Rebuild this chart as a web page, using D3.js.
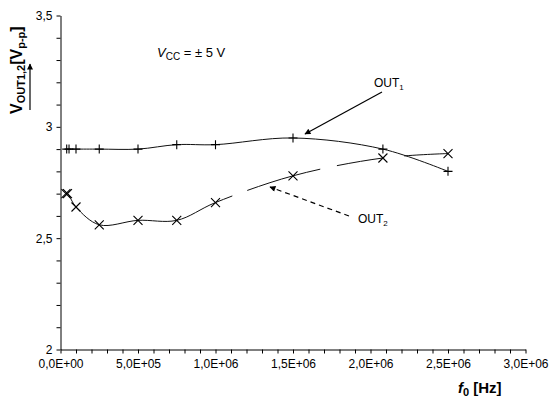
<!DOCTYPE html>
<html>
<head>
<meta charset="utf-8">
<script src="https://cdn.jsdelivr.net/npm/d3@7"></script>
<style>
  body { margin: 0; background: #fff; }
  text { font-family: "Liberation Sans", Arial, sans-serif; }
</style>
</head>
<body>
<svg id="chart"></svg>
<script>
// frequency [Hz] and output swing [Vp-p]
const freqOut1 = [4e4, 5.5e4, 1e5, 2.5e5, 5e5, 7.5e5, 1e6, 1.5e6, 2.08e6, 2.5e6];
const vOut1 = [2.90, 2.90, 2.90, 2.90, 2.90, 2.92, 2.92, 2.95, 2.90, 2.80];
const freqOut2 = [3.5e4, 4.5e4, 1e5, 2.5e5, 5e5, 7.5e5, 1e6, 1.5e6, 2.08e6, 2.5e6];
const vOut2 = [2.70, 2.70, 2.64, 2.56, 2.58, 2.58, 2.66, 2.78, 2.86, 2.88];

const xTickLabels = ["0,0E+00", "5,0E+05", "1,0E+06", "1,5E+06", "2,0E+06", "2,5E+06", "3,0E+06"];
const yTickLabels = ["2", "2,5", "3", "3,5"];

const width = 556;
const height = 406;

const svg = d3.select("#chart").attr("width", width).attr("height", height);

const x = d3.scaleLinear().domain([0, 3e6]).range([60.5, 525.5]);
const y = d3.scaleLinear().domain([2, 3.5]).range([349.5, 15.5]);

// axes
const xAxis = d3
  .axisBottom(x)
  .tickValues(d3.range(0, 31).map((i) => i * 1e5))
  .tickSize(4)
  .tickSizeOuter(0)
  .tickPadding(6)
  .tickFormat((d, i) => (i % 5 === 0 ? xTickLabels[i / 5] : ""));

const yAxis = d3
  .axisLeft(y)
  .tickValues(d3.range(0, 16).map((i) => 2 + i / 10))
  .tickSize(4)
  .tickSizeOuter(0)
  .tickPadding(4)
  .tickFormat((d, i) => (i % 5 === 0 ? yTickLabels[i / 5] : ""));

const gx = svg.append("g").attr("transform", `translate(0, ${y(2)})`).call(xAxis);
const gy = svg.append("g").attr("transform", `translate(${x(0)}, 0)`).call(yAxis);

[gx, gy].forEach((g) => {
  g.selectAll("path, line").attr("stroke", "#000");
  g.selectAll("text").attr("fill", "#000").style("font-size", "12px");
});

// arrowheads
const defs = svg.append("defs");
defs
  .append("marker")
  .attr("id", "arrow")
  .attr("viewBox", "0 0 10 10")
  .attr("refX", 9)
  .attr("refY", 5)
  .attr("markerWidth", 9)
  .attr("markerHeight", 6)
  .attr("markerUnits", "userSpaceOnUse")
  .attr("orient", "auto")
  .append("path")
  .attr("d", "M0,0L10,5L0,10z")
  .attr("fill", "#000");

// curves
const line = d3
  .line()
  .x((d) => x(d[0]))
  .y((d) => y(d[1]))
  .curve(d3.curveCatmullRom.alpha(0.5));

const series1 = freqOut1.map((f, i) => [f, vOut1[i]]);
const series2 = freqOut2.map((f, i) => [f, vOut2[i]]);

svg
  .append("path")
  .datum(series1)
  .attr("d", line)
  .attr("fill", "none")
  .attr("stroke", "#111")
  .attr("stroke-width", 1);

svg
  .append("path")
  .datum(series2)
  .attr("d", line)
  .attr("fill", "none")
  .attr("stroke", "#111")
  .attr("stroke-width", 1)
  .attr("stroke-dasharray", "186 16 76 17 48 20 400");

// markers
svg
  .append("g")
  .selectAll("path")
  .data(series1)
  .join("path")
  .attr("transform", (d) => `translate(${x(d[0])}, ${y(d[1])})`)
  .attr("d", "M-4.5,0H4.5M0,-4.5V4.5")
  .attr("stroke", "#000")
  .attr("stroke-width", 1.1);

svg
  .append("g")
  .selectAll("path")
  .data(series2)
  .join("path")
  .attr("transform", (d) => `translate(${x(d[0])}, ${y(d[1])})`)
  .attr("d", "M-4.5,-4.5L4.5,4.5M-4.5,4.5L4.5,-4.5")
  .attr("stroke", "#000")
  .attr("stroke-width", 1.1);

// annotations
const vcc = svg.append("text").attr("x", 157).attr("y", 57).style("font-size", "13px");
vcc.append("tspan").style("font-style", "italic").text("V");
vcc.append("tspan").attr("dy", 3).style("font-size", "10px").text("CC");
vcc.append("tspan").attr("dy", -3).text(" = ± 5 V");

const out1 = svg.append("text").attr("x", 374).attr("y", 87).style("font-size", "12px");
out1.append("tspan").text("OUT");
out1.append("tspan").attr("dy", 3).style("font-size", "8px").text("1");

const out2 = svg.append("text").attr("x", 358).attr("y", 223).style("font-size", "12px");
out2.append("tspan").text("OUT");
out2.append("tspan").attr("dy", 3).style("font-size", "8px").text("2");

svg
  .append("line")
  .attr("x1", 382)
  .attr("y1", 92)
  .attr("x2", 305)
  .attr("y2", 134)
  .attr("stroke", "#000")
  .attr("stroke-width", 1.2)
  .attr("marker-end", "url(#arrow)");

svg
  .append("line")
  .attr("x1", 349)
  .attr("y1", 216)
  .attr("x2", 270)
  .attr("y2", 187)
  .attr("stroke", "#000")
  .attr("stroke-width", 1.2)
  .attr("stroke-dasharray", "5 4")
  .attr("marker-end", "url(#arrow)");

// y axis title
const yTitle = svg
  .append("text")
  .attr("transform", "translate(22, 114) rotate(-90)")
  .style("font-size", "16px")
  .style("font-weight", "bold");
yTitle.append("tspan").text("V");
yTitle.append("tspan").attr("dy", 3).style("font-size", "11px").text("OUT1,2");
yTitle.append("tspan").attr("dy", -3).text("[V");
yTitle.append("tspan").attr("dy", 3).style("font-size", "11px").text("p-p");
yTitle.append("tspan").attr("dy", -3).text("]");

svg
  .append("line")
  .attr("x1", 30)
  .attr("y1", 110)
  .attr("x2", 30)
  .attr("y2", 64)
  .attr("stroke", "#000")
  .attr("stroke-width", 1.2)
  .attr("marker-end", "url(#arrow)");

// x axis title
const xTitle = svg
  .append("text")
  .attr("x", 458)
  .attr("y", 393)
  .style("font-size", "15px")
  .style("font-weight", "bold");
xTitle.append("tspan").style("font-style", "italic").text("f");
xTitle.append("tspan").attr("dy", 3).style("font-size", "11px").text("0");
xTitle.append("tspan").attr("dy", -3).text(" [Hz]");
</script>
</body>
</html>
